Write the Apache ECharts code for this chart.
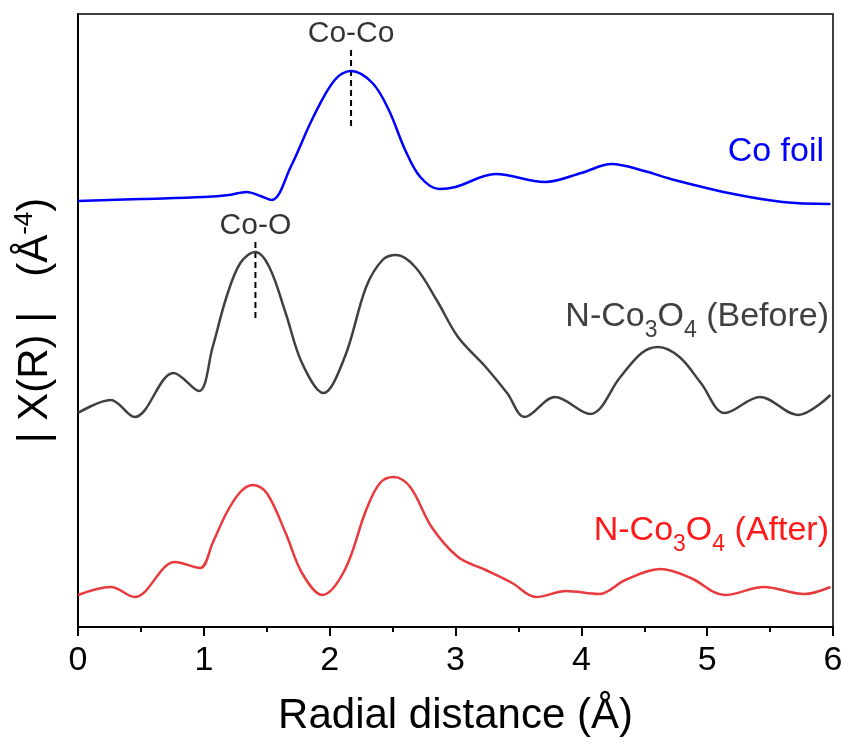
<!DOCTYPE html>
<html>
<head>
<meta charset="utf-8">
<script src="https://cdn.jsdelivr.net/npm/echarts@6/dist/echarts.min.js"></script>
<style>
  html, body { margin: 0; padding: 0; background: #fff; }
  #chart { width: 848px; height: 747px; }
</style>
</head>
<body>
<div id="chart"></div>
<script>
// radial distance (Å) and stacked |X(R)| values (arbitrary units, offsets included)
const coFoilR = [0, 0.5, 1.0, 1.2, 1.34, 1.45, 1.54, 1.69, 1.87, 2.04, 2.17, 2.34, 2.47, 2.6, 2.72, 2.87, 3.0, 3.32, 3.71, 4.0, 4.24, 4.5, 4.74, 5.17, 5.6, 5.98]
const coFoilV = [4.26, 4.28, 4.30, 4.32, 4.35, 4.31, 4.27, 4.60, 5.10, 5.47, 5.56, 5.44, 5.17, 4.77, 4.50, 4.38, 4.40, 4.53, 4.45, 4.54, 4.63, 4.56, 4.47, 4.34, 4.25, 4.23]

const beforeR = [0, 0.26, 0.45, 0.76, 0.96, 1.07, 1.18, 1.29, 1.41, 1.52, 1.65, 1.78, 1.95, 2.12, 2.29, 2.42, 2.53, 2.68, 2.85, 3.02, 3.24, 3.41, 3.55, 3.79, 4.07, 4.31, 4.48, 4.61, 4.78, 4.95, 5.14, 5.42, 5.72, 5.98]
const beforeV = [2.14, 2.27, 2.10, 2.54, 2.36, 2.80, 3.30, 3.64, 3.75, 3.60, 3.14, 2.64, 2.34, 2.70, 3.40, 3.67, 3.72, 3.60, 3.27, 2.90, 2.60, 2.34, 2.10, 2.30, 2.13, 2.50, 2.74, 2.80, 2.70, 2.44, 2.14, 2.30, 2.12, 2.32]

const afterR = [0, 0.26, 0.45, 0.77, 0.97, 1.07, 1.18, 1.29, 1.39, 1.50, 1.65, 1.78, 1.94, 2.12, 2.29, 2.40, 2.51, 2.64, 2.81, 3.02, 3.24, 3.45, 3.64, 3.88, 4.14, 4.35, 4.63, 4.87, 5.14, 5.45, 5.77, 5.98]
const afterV = [0.32, 0.40, 0.30, 0.65, 0.59, 0.84, 1.14, 1.35, 1.42, 1.34, 0.94, 0.54, 0.32, 0.57, 1.17, 1.44, 1.50, 1.40, 1.00, 0.70, 0.57, 0.44, 0.30, 0.36, 0.33, 0.47, 0.58, 0.49, 0.32, 0.40, 0.33, 0.40]

// peak markers: position and dashed line extent
const markerNames = ['Co-Co', 'Co-O']
const markerR = [2.17, 1.41]
const markerTop = [5.77, 3.85]
const markerBottom = [4.99, 3.08]

const xTicks = ['0', '1', '2', '3', '4', '5', '6']

const zip = (xs, ys) => xs.map((x, i) => [x, ys[i]])

const FONT = 'Liberation Sans, Arial, sans-serif'

const markerSeries = markerNames.map((name, i) => ({
  type: 'line',
  data: [[markerR[i], markerTop[i]], [markerR[i], markerBottom[i]]],
  symbol: 'none',
  silent: true,
  lineStyle: { color: '#000', width: 2, type: [6, 4] },
  z: 1
}))
const markerLabels = {
  type: 'scatter',
  data: markerNames.map((name, i) => ({ value: [markerR[i], markerTop[i]], name })),
  symbolSize: 0,
  silent: true,
  label: {
    show: true,
    position: 'top',
    distance: 1,
    formatter: p => p.name,
    fontFamily: FONT,
    fontSize: 30,
    color: '#000'
  }
}

const subText = (label, color) => ({
  text: '{a|N-Co}{s|3}{a|O}{s|4}{a| ' + label + '}',
  rich: {
    a: { fontFamily: FONT, fontSize: 34, fill: color, lineHeight: 44, verticalAlign: 'bottom' },
    s: { fontFamily: FONT, fontSize: 23, fill: color, lineHeight: 44, verticalAlign: 'bottom', padding: [0, 0, -8, 0] }
  }
})

const chart = echarts.init(document.getElementById('chart'))
chart.setOption({
  animation: false,
  backgroundColor: '#fff',
  grid: {
    left: 78, right: 15, top: 14, bottom: 120,
    show: true, borderColor: '#000', borderWidth: 1.5
  },
  xAxis: {
    type: 'value',
    min: 0, max: 6, interval: 1,
    axisLine: { show: true, lineStyle: { color: '#000', width: 2 } },
    axisTick: { show: true, length: 9, lineStyle: { color: '#000', width: 2 } },
    minorTick: { show: true, splitNumber: 2, length: 5, lineStyle: { color: '#000', width: 2 } },
    splitLine: { show: false },
    axisLabel: {
      margin: 17,
      fontFamily: FONT, fontSize: 34, color: '#000',
      formatter: v => xTicks[Math.round(v)]
    },
    name: 'Radial distance (Å)',
    nameLocation: 'middle',
    nameGap: 68,
    nameTextStyle: { fontFamily: FONT, fontSize: 42, color: '#000' }
  },
  yAxis: {
    type: 'value',
    min: 0, max: 6.13,
    axisLine: { show: true, lineStyle: { color: '#000', width: 2 } },
    axisTick: { show: false },
    axisLabel: { show: false },
    splitLine: { show: false },
    name: '{a|| X(R) |   (Å}{s|-4}{a|)}',
    nameLocation: 'middle',
    nameGap: 20,
    nameTextStyle: {
      rich: {
        a: { fontFamily: FONT, fontSize: 42, color: '#000', lineHeight: 46 },
        s: { fontFamily: FONT, fontSize: 26, color: '#000', verticalAlign: 'top', lineHeight: 46, padding: [0, 0, 18, 0] }
      }
    }
  },
  graphic: [
    {
      type: 'text', right: 24, top: 135,
      style: { text: 'Co foil', fontFamily: FONT, fontSize: 34, fill: '#0000ff' }
    },
    { type: 'text', right: 19, top: 300, style: subText('(Before)', '#404040') },
    { type: 'text', right: 19, top: 514, style: subText('(After)', '#ff1a1a') }
  ],
  series: [
    {
      name: 'Co foil', type: 'line', data: zip(coFoilR, coFoilV),
      smooth: 0.35, symbol: 'none',
      lineStyle: { color: '#0000ff', width: 2.5 }
    },
    {
      name: 'N-Co3O4 (Before)', type: 'line', data: zip(beforeR, beforeV),
      smooth: 0.35, symbol: 'none',
      lineStyle: { color: '#404040', width: 2.5 }
    },
    {
      name: 'N-Co3O4 (After)', type: 'line', data: zip(afterR, afterV),
      smooth: 0.35, symbol: 'none',
      lineStyle: { color: '#e8393d', width: 2.5 }
    },
    ...markerSeries,
    markerLabels
  ]
})
</script>
</body>
</html>
